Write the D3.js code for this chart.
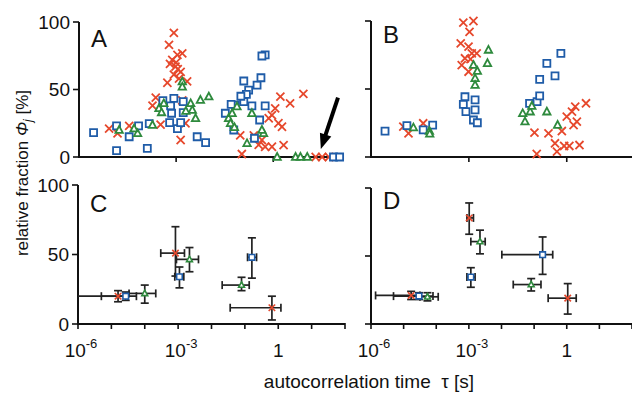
<!DOCTYPE html>
<html>
<head>
<meta charset="utf-8">
<script src="https://cdn.jsdelivr.net/npm/d3@7"></script>
<style>
  body { margin: 0; background: #fff; }
  svg { display: block; }
</style>
</head>
<body>
<svg id="chart" width="632" height="393"></svg>
<script>
// values: [log10(tau / s), fraction %]
const aRed = [[-5.07,21],[-4.81,17.5],[-4.45,23],[-3.73,38],[-3.63,44],[-3.48,24],[-3.27,55],[-3.07,92],[-3.22,83],
  [-3.12,72],[-2.96,75.6],[-2.81,76.8],[-3.02,67],[-2.86,63],[-2.91,58],[-2.66,56],[-2.81,42],[-2.86,12.6],[-2.71,25],
  [-3.19,69],[-3.07,61],[-3.0,70],[-2.95,65],
  [-1.02,16],[-0.97,2.2],[-0.6,16],[-0.45,9],[-0.25,7.6],[-0.04,7.6],[0.32,8.8],[-0.14,28.7],[-0.04,31],[0.06,36],
  [0.22,44.7],[0.16,25],[0.27,22.4],[0.52,39.7],[0.93,46.7],[-0.35,12.6],
  [1.31,0],[1.51,0],[1.72,0]]
const aBlue = [[-5.55,18],[-4.84,23],[-4.84,4.7],[-4.45,15],[-4.16,23],[-3.89,6.4],[-3.83,24.7],[-3.41,41.7],
  [-3.07,43.5],[-3.17,37.8],[-3.14,32.4],[-3.2,25.4],[-2.96,21],[-2.86,25.4],[-2.78,32.8],[-2.78,41],[-2.35,15],[-2.09,10.6],
  [-1.48,32.4],[-1.22,20],[-1.17,38.5],[-0.91,56.3],[-0.76,49.6],[-0.83,46.4],[-0.91,41],[-0.66,37.8],[-0.5,53.3],
  [-0.38,58.7],[-0.25,75.6],[-0.35,74.8],[-0.25,37.8],[-0.42,27.4],[-0.58,13.9],[-1.0,45],[-1.3,39],
  [1.86,0],[2.05,0]]
const aGreen = [[-4.76,20],[-4.19,17.5],[-4.3,21],[-3.73,23.7],[-3.53,36],[-3.38,39.7],[-3.45,33],[-2.81,55.8],
  [-2.81,52],[-2.55,39.7],[-2.5,34.8],[-2.4,28.7],[-2.25,42.2],[-1.99,44.7],[-2.7,34],
  [-1.38,28.7],[-1.32,25],[-1.27,32.4],[-1.12,37.3],[-0.66,32.4],[-0.81,10.1],[-0.3,17.5],[-0.35,20],[-1.2,22],
  [0.12,0],[0.69,0],[0.84,0],[1.05,0]]

const bRed = [[-5.01,22.3],[-4.85,17.4],[-4.4,24.8],
  [-3.17,98.8],[-2.86,100],[-2.98,92],[-3.25,83.6],[-3.01,81.1],[-2.76,76.2],[-2.91,76.2],[-3.12,72.6],[-3.22,67.6],
  [-3.01,62.7],[-2.95,72],
  [-0.99,17.9],[-0.56,17.4],[-0.15,19.1],[-0.92,2.2],[-0.36,10.1],[-0.3,3.9],[-0.08,8.1],[0.08,8.1],[0.39,8.8],
  [0,29.7],[0.16,33.3],[0.26,37],[0.59,39.5],[0.31,26],[0.21,23.5]]
const bBlue = [[-5.57,19],[-4.9,23],[-4.4,20],[-4.11,23.5],
  [-3.12,44.3],[-3.17,38.7],[-3.09,33.3],[-2.81,42],[-2.81,34.6],[-2.86,27.2],[-2.74,25.2],
  [-1.14,39.5],[-0.91,40.7],[-0.83,44.9],[-0.83,57.1],[-0.61,68.9],[-0.36,59.6],[-0.18,76.2]]
const bGreen = [[-4.7,21.6],[-4.21,19.1],[-4.2,17],
  [-2.4,78.7],[-2.43,68.9],[-2.86,67.6],[-2.74,63.2],[-2.81,57.8],[-2.81,52.9],
  [-1.35,32.1],[-1.28,26],[-1.12,33.3],[-1.07,37.5],[-0.61,33.3],[-0.28,23.5]]

// mean values with error ranges: t = log10 tau, f = fraction, tl/th and fl/fh = bar ends
const cRed = [{t:-4.8,f:20,tl:-5.3,th:-4.5,fl:16,fh:24},{t:-3.08,f:51,tl:-3.52,th:-2.81,fl:34.5,fh:70},
  {t:-0.19,f:11.7,tl:-1.44,th:0.08,fl:2.9,fh:20}]
const cBlue = [{t:-4.57,f:20,tl:-6.5,th:-4.25,fl:17,fh:23},{t:-2.96,f:34,tl:-3.1,th:-2.83,fl:26,fh:41},
  {t:-0.79,f:48,tl:-0.92,th:-0.65,fl:33,fh:62}]
const cGreen = [{t:-4.0,f:22,tl:-4.47,th:-3.67,fl:15,fh:28},{t:-2.66,f:46.5,tl:-3.05,th:-2.39,fl:37.6,fh:55},
  {t:-1.1,f:28,tl:-1.68,th:-0.87,fl:24,fh:33.6}]

const dRed = [{t:-4.77,f:21,tl:-5.86,th:-4.5,fl:18,fh:24},{t:-2.99,f:78,tl:-3.06,th:-2.86,fl:66,fh:89},
  {t:0.03,f:19,tl:-0.57,th:0.29,fl:7.3,fh:29.7}]
const dBlue = [{t:-4.53,f:20.5,tl:-5.31,th:-4.1,fl:18,fh:23},{t:-2.94,f:34.5,tl:-3.06,th:-2.81,fl:27,fh:41.4},
  {t:-0.74,f:51,tl:-1.99,th:-0.43,fl:36.5,fh:64}]
const dGreen = [{t:-4.27,f:20,tl:-4.5,th:-3.94,fl:17,fh:23},{t:-2.66,f:60.6,tl:-2.94,th:-2.5,fl:51.6,fh:69},
  {t:-1.09,f:29,tl:-1.64,th:-0.79,fl:24.3,fh:33.4}]

const yTicks = [0, 50, 100]
const xLabelTicks = [{v:1e-6, base:'10', exp:'-6'}, {v:1e-3, base:'10', exp:'-3'}, {v:1, base:'1', exp:''}]

const colors = { red: '#e6482c', blue: '#1f5ca8', green: '#2e8a3d' }
const font = '"Liberation Sans", Arial, Helvetica, sans-serif'
const svg = d3.select('#chart')

// marker outlines, h = half size
function markerPath(kind, h) {
  if (kind === 'blue') return `M${-h},${-h}h${2*h}v${2*h}h${-2*h}Z`
  if (kind === 'green') return `M0,${-h*1.15}L${h*1.05},${h*0.8}L${-h*1.05},${h*0.8}Z`
  const r = h * 1.15
  return `M${-r},${-r}L${r},${r}M${-r},${r}L${r},${-r}`
}

function drawPanel(p) {
  const x = d3.scaleLog().domain([1e-6, 1e2]).range([p.x0, p.x1])
  const y = d3.scaleLinear().domain([0, 100]).range([p.y0, p.y1])
  const g = svg.append('g')

  // axes
  g.append('line').attr('x1', p.x0).attr('x2', p.axisEnd).attr('y1', p.y0).attr('y2', p.y0)
    .attr('stroke', '#111').attr('stroke-width', 2)
  g.append('line').attr('x1', p.x0).attr('x2', p.x0).attr('y1', p.y0 + 1).attr('y2', y(100))
    .attr('stroke', '#111').attr('stroke-width', 2)

  g.selectAll('.xt').data(p.xTicks).enter().append('line')
    .attr('x1', d => x(d)).attr('x2', d => x(d)).attr('y1', p.y0 - 1).attr('y2', p.y0 + 5)
    .attr('stroke', '#111').attr('stroke-width', 1.6)
  g.selectAll('.yt').data(yTicks).enter().append('line')
    .attr('x1', p.x0 - 6).attr('x2', p.x0).attr('y1', d => y(d)).attr('y2', d => y(d))
    .attr('stroke', '#111').attr('stroke-width', 1.6)

  if (p.yLabels) {
    g.selectAll('.yl').data(yTicks).enter().append('text')
      .attr('x', p.x0 - 9).attr('y', d => y(d)).attr('dy', '0.36em')
      .attr('text-anchor', 'end').attr('font-family', font).attr('font-size', 19).attr('fill', '#111')
      .text(d => d)
  }
  if (p.xLabels) {
    const t = g.selectAll('.xl').data(xLabelTicks).enter().append('text')
      .attr('x', d => x(d.v) + (d.exp ? 3 : 0)).attr('y', p.y0 + 33)
      .attr('text-anchor', 'middle').attr('font-family', font).attr('font-size', 19).attr('fill', '#111')
    t.append('tspan').text(d => d.base)
    t.append('tspan').attr('dy', -9).attr('font-size', 13).text(d => d.exp)
  }

  g.append('text').attr('x', p.x0 + 12).attr('y', p.y1 + p.letterDy)
    .attr('font-family', font).attr('font-size', 24).attr('fill', '#111').text(p.letter)

  // error bars
  if (p.bars) {
    const cap = 4
    p.bars.forEach(s => {
      const eb = g.append('g').attr('stroke', '#222').attr('stroke-width', 1.7).attr('fill', 'none')
      s.data.forEach(d => {
        const cx = x(10 ** d.t), cy = y(d.f)
        const xl = Math.max(p.x0, x(10 ** d.tl)), xh = x(10 ** d.th)
        eb.append('line').attr('x1', xl).attr('x2', xh).attr('y1', cy).attr('y2', cy)
        if (xl > p.x0) eb.append('line').attr('x1', xl).attr('x2', xl).attr('y1', cy - cap).attr('y2', cy + cap)
        eb.append('line').attr('x1', xh).attr('x2', xh).attr('y1', cy - cap).attr('y2', cy + cap)
        eb.append('line').attr('x1', cx).attr('x2', cx).attr('y1', y(d.fl)).attr('y2', y(d.fh))
        eb.append('line').attr('x1', cx - cap).attr('x2', cx + cap).attr('y1', y(d.fl)).attr('y2', y(d.fl))
        eb.append('line').attr('x1', cx - cap).attr('x2', cx + cap).attr('y1', y(d.fh)).attr('y2', y(d.fh))
      })
    })
  }

  // markers
  p.series.forEach(s => {
    g.selectAll(null).data(s.data).enter().append('path')
      .attr('transform', d => Array.isArray(d)
        ? `translate(${x(10 ** d[0])},${y(d[1])})`
        : `translate(${x(10 ** d.t)},${y(d.f)})`)
      .attr('d', markerPath(s.kind, p.mSize))
      .attr('fill', s.kind === 'red' ? 'none' : '#fff')
      .attr('stroke', colors[s.kind])
      .attr('stroke-width', p.mStroke)
  })
  return { x, y, g }
}

const decades = d3.range(-6, 3).map(e => 10 ** e)

const panelA = drawPanel({ letter: 'A', x0: 79, x1: 338, axisEnd: 344, y0: 157, y1: 22, letterDy: 25,
  xTicks: [1e-3, 1], yLabels: true, xLabels: false, mSize: 3.5, mStroke: 1.8,
  series: [{ kind: 'red', data: aRed }, { kind: 'blue', data: aBlue }, { kind: 'green', data: aGreen }] })
drawPanel({ letter: 'B', x0: 371, x1: 632, axisEnd: 632, y0: 157, y1: 21, letterDy: 22,
  xTicks: [1e-3, 1], yLabels: false, xLabels: false, mSize: 3.5, mStroke: 1.8,
  series: [{ kind: 'red', data: bRed }, { kind: 'blue', data: bBlue }, { kind: 'green', data: bGreen }] })
drawPanel({ letter: 'C', x0: 78, x1: 345, axisEnd: 345, y0: 324, y1: 185, letterDy: 27,
  xTicks: decades, yLabels: true, xLabels: true, mSize: 2.8, mStroke: 1.6,
  bars: [{ data: cRed }, { data: cBlue }, { data: cGreen }],
  series: [{ kind: 'red', data: cRed }, { kind: 'blue', data: cBlue }, { kind: 'green', data: cGreen }] })
drawPanel({ letter: 'D', x0: 371, x1: 632, axisEnd: 632, y0: 324, y1: 188, letterDy: 21,
  xTicks: decades, yLabels: false, xLabels: true, mSize: 2.8, mStroke: 1.6,
  bars: [{ data: dRed }, { data: dBlue }, { data: dGreen }],
  series: [{ kind: 'red', data: dRed }, { kind: 'blue', data: dBlue }, { kind: 'green', data: dGreen }] })

// arrow in panel A pointing at the points that sit on zero
const arrowFrom = [2.0, 44], arrowTo = [1.47, 6]
{
  const { x, y, g } = panelA
  const x1 = x(10 ** arrowFrom[0]), y1 = y(arrowFrom[1])
  const x2 = x(10 ** arrowTo[0]), y2 = y(arrowTo[1])
  const len = Math.hypot(x2 - x1, y2 - y1)
  const ux = (x2 - x1) / len, uy = (y2 - y1) / len
  const head = 15, half = 6
  const bx = x2 - ux * head, by = y2 - uy * head
  g.append('line').attr('x1', x1).attr('y1', y1).attr('x2', bx + ux * 2).attr('y2', by + uy * 2)
    .attr('stroke', '#000').attr('stroke-width', 4)
  g.append('path')
    .attr('d', `M${x2},${y2}L${bx - uy * half},${by + ux * half}L${bx + uy * half},${by - ux * half}Z`)
    .attr('fill', '#000')
}

// axis titles
svg.append('text').attr('x', 369).attr('y', 388).attr('text-anchor', 'middle')
  .attr('font-family', font).attr('font-size', 19).attr('fill', '#111')
  .style('white-space', 'pre')
  .text('autocorrelation time  \u03c4 [s]')

const yTitle = svg.append('text').attr('transform', 'translate(28,173) rotate(-90)')
  .attr('text-anchor', 'middle').attr('font-family', font).attr('font-size', 17).attr('fill', '#111')
  .style('white-space', 'pre')
yTitle.append('tspan').text('relative fraction ')
yTitle.append('tspan').attr('font-style', 'italic').text('\u03a6')
yTitle.append('tspan').attr('font-style', 'italic').attr('font-size', 12).attr('dy', 4).text('j')
yTitle.append('tspan').attr('dy', -4).text(' [%]')
</script>
</body>
</html>
